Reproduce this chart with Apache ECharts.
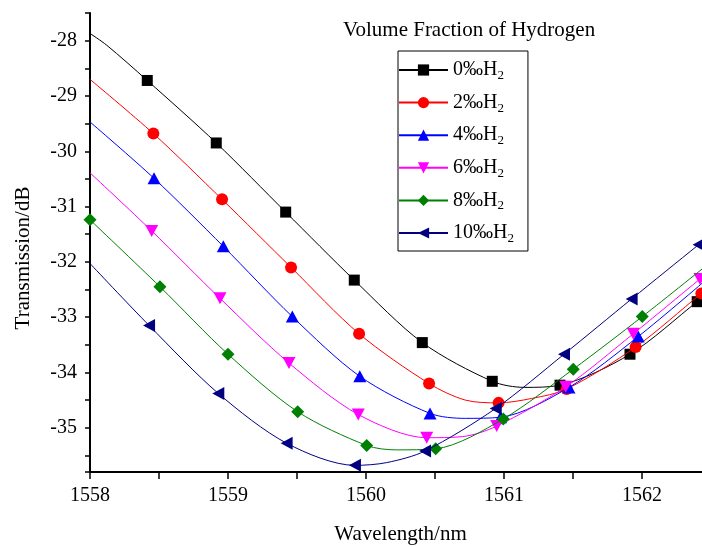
<!DOCTYPE html>
<html><head><meta charset="utf-8">
<script src="https://cdn.jsdelivr.net/npm/echarts@6/dist/echarts.min.js"></script>
<style>html,body{margin:0;padding:0;background:#fff}#c{width:702px;height:547px}</style>
</head><body><div id="c"></div>
<script>
// ---- data ----
const seriesNames = ['0‰H2', '2‰H2', '4‰H2', '6‰H2', '8‰H2', '10‰H2'];

const x0 = [1558, 1558.12, 1558.415, 1558.915, 1559.418, 1559.915, 1560.408, 1560.915, 1561.15, 1561.406, 1561.913, 1562.40, 1562.5];
const y0 = [-27.87, -28.08, -28.72, -29.85, -31.10, -32.33, -33.46, -34.16, -34.27, -34.23, -33.67, -32.72, -32.53];
const m0 = [0, 0, 1, 1, 1, 1, 1, 1, 0, 1, 1, 1, 0];

const x2 = [1558, 1558.459, 1558.957, 1559.457, 1559.95, 1560.457, 1560.72, 1560.961, 1561.2, 1561.454, 1561.954, 1562.43, 1562.5];
const y2 = [-28.70, -29.68, -30.87, -32.10, -33.30, -34.20, -34.50, -34.55, -34.47, -34.30, -33.54, -32.57, -32.43];
const m2 = [0, 1, 1, 1, 1, 1, 0, 1, 0, 1, 1, 1, 0];

const x4 = [1558, 1558.464, 1558.966, 1559.466, 1559.955, 1560.464, 1560.72, 1560.975, 1561.471, 1561.973, 1562.5];
const y4 = [-29.47, -30.49, -31.72, -32.99, -34.07, -34.74, -34.83, -34.81, -34.27, -33.35, -32.25];
const m4 = [0, 1, 1, 1, 1, 1, 0, 1, 1, 1, 0];

const x6 = [1558, 1558.447, 1558.942, 1559.442, 1559.944, 1560.44, 1560.70, 1560.947, 1561.447, 1561.937, 1562.42, 1562.5];
const y6 = [-30.39, -31.44, -32.66, -33.83, -34.76, -35.18, -35.16, -34.97, -34.26, -33.30, -32.31, -32.15];
const m6 = [0, 1, 1, 1, 1, 1, 0, 1, 1, 1, 1, 0];

const x8 = [1558, 1558.507, 1559.0, 1559.505, 1560.005, 1560.22, 1560.505, 1560.995, 1561.502, 1562.002, 1562.5];
const y8 = [-31.24, -32.45, -33.67, -34.71, -35.32, -35.40, -35.38, -34.84, -33.94, -32.99, -32.00];
const m8 = [1, 1, 1, 1, 1, 0, 1, 1, 1, 1, 0];

const x10 = [1558, 1558.428, 1558.93, 1559.425, 1559.92, 1560.15, 1560.428, 1560.94, 1561.435, 1561.925, 1562.41, 1562.5];
const y10 = [-32.03, -33.15, -34.38, -35.28, -35.68, -35.63, -35.42, -34.65, -33.67, -32.67, -31.69, -31.51];
const m10 = [0, 1, 1, 1, 1, 0, 1, 1, 1, 1, 1, 0];

const xAll = [x0, x2, x4, x6, x8, x10];
const yAll = [y0, y2, y4, y6, y8, y10];
const mAll = [m0, m2, m4, m6, m8, m10];

const titleText = 'Volume Fraction of Hydrogen';
const xName = 'Wavelength/nm';
const yName = 'Transmission/dB';

// ---- styles ----
const colors = ['#000000', '#ff0000', '#0000ff', '#ff00ff', '#008000', '#000080'];
const symbols = ['rect', 'circle', 'triangle', 'triangle', 'diamond', 'triangle'];
const symSizes = [[11, 11], [12, 12], [13, 12], [13, 12], [13, 13], [13, 12]];
const symRot = [0, 0, 0, 180, 0, 90];
const FONT = '"Liberation Serif", "Times New Roman", serif';

const series = seriesNames.map((name, s) => ({
  name: name,
  type: 'line',
  smooth: 0.3,
  symbol: symbols[s],
  symbolSize: symSizes[s],
  symbolRotate: symRot[s],
  showSymbol: true,
  showAllSymbol: true,
  clip: true,
  lineStyle: { color: colors[s], width: 1 },
  itemStyle: { color: colors[s], borderWidth: 0 },
  emphasis: { disabled: true },
  data: xAll[s].map((x, i) => mAll[s][i] ? [x, yAll[s][i]] : { value: [x, yAll[s][i]], symbol: 'none' }),
  z: 2 + s
}));

const intOnly = v => (Math.abs(v - Math.round(v)) < 1e-6 ? String(Math.round(v)) : '');

const chart = echarts.init(document.getElementById('c'), null, { renderer: 'canvas' });
chart.setOption({
  animation: false,
  backgroundColor: '#ffffff',
  title: {
    text: titleText, left: 343, top: 20, padding: 0,
    textStyle: { fontFamily: FONT, fontSize: 21, fontWeight: 'normal', color: '#000' }
  },
  legend: {
    orient: 'vertical', left: 398, top: 51,
    padding: [7, 14, 6, 0],
    itemGap: 8.6, itemWidth: 49, itemHeight: 14,
    borderColor: '#000', borderWidth: 1,
    selectedMode: false,
    data: seriesNames,
    formatter: n => n.replace('H2', 'H{sub|2}'),
    textStyle: {
      fontFamily: FONT, fontSize: 20, color: '#000', lineHeight: 24,
      rich: { sub: { fontFamily: FONT, fontSize: 13, lineHeight: 8, verticalAlign: 'bottom', color: '#000' } }
    }
  },
  grid: { left: 90, right: -9, top: 13, bottom: 75, containLabel: false, outerBoundsMode: 'none' },
  xAxis: {
    type: 'value', min: 1558, max: 1562.5, interval: 0.5,
    name: xName, nameLocation: 'middle', nameGap: 52,
    nameTextStyle: { fontFamily: FONT, fontSize: 21, color: '#000' },
    axisLine: { show: true, lineStyle: { color: '#000', width: 2 } },
    axisTick: { show: true, inside: false, length: 7, lineStyle: { color: '#000', width: 1.5 } },
    axisLabel: { margin: 14, fontFamily: FONT, fontSize: 20, color: '#000', formatter: intOnly },
    splitLine: { show: false }
  },
  yAxis: {
    type: 'value', min: -35.8, max: -27.5, minInterval: 0.5, maxInterval: 0.5, splitNumber: 17,
    axisLine: { show: true, onZero: false, lineStyle: { color: '#000', width: 2 } },
    axisTick: { show: true, inside: false, length: 5, lineStyle: { color: '#000', width: 1.5 } },
    axisLabel: { margin: 13, fontFamily: FONT, fontSize: 20, color: '#000', formatter: intOnly },
    splitLine: { show: false }
  },
  graphic: [{
    type: 'text', x: 23, y: 258, rotation: Math.PI / 2,
    style: { text: yName, font: '21px ' + FONT, fill: '#000', align: 'center', verticalAlign: 'middle' }
  }],
  series: series
});
</script></body></html>
